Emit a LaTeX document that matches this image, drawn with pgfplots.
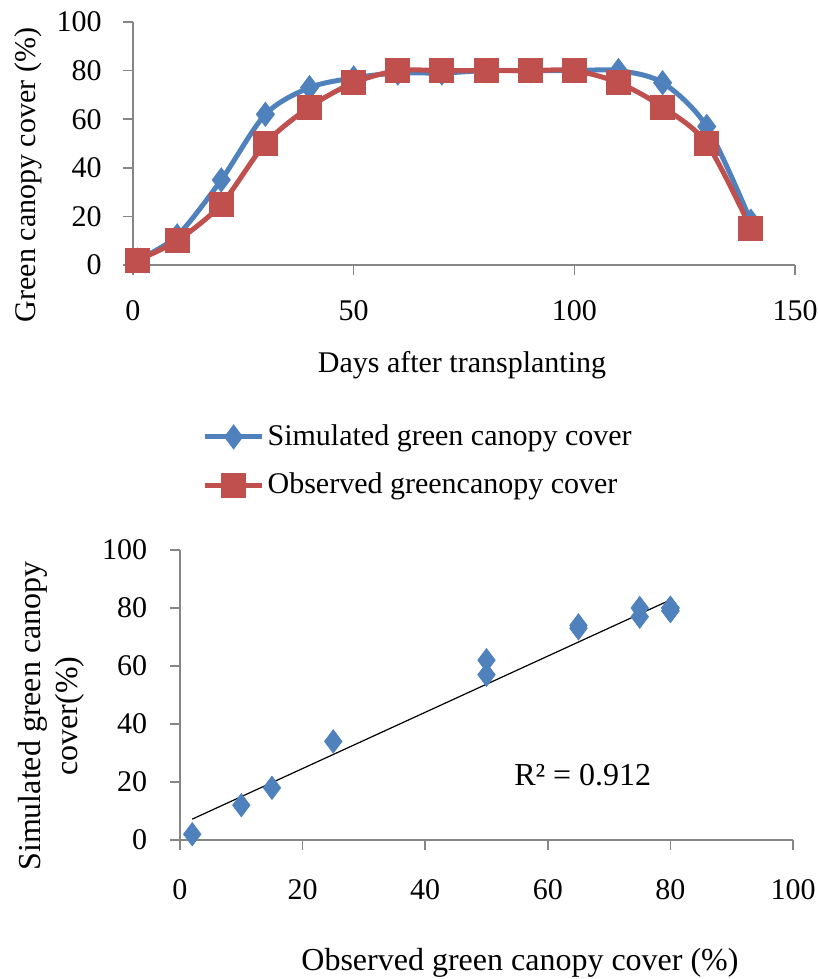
\documentclass[border=0pt]{standalone}
\usepackage{fontspec}
\setmainfont{Liberation Serif}
\usepackage{pgfplots}
\pgfplotsset{compat=1.18}

\definecolor{simblue}{HTML}{4F81BD}
\definecolor{obsred}{HTML}{C0504D}
\definecolor{axgray}{HTML}{868686}

\pgfplotsset{
  excelaxis/.style={
    scale only axis,
    axis x line*=bottom,
    axis y line*=left,
    axis line style={axgray, line width=0.8pt},
    tick style={axgray, line width=0.8pt},
    tick align=outside,
    major tick length=5pt,
    /pgf/number format/assume math mode=true,
    ymin=0, ymax=100,
    ytick={0,20,...,100},
    clip=false,
  },
}

\begin{document}
\fontsize{15}{18}\selectfont
\begin{tikzpicture}
\useasboundingbox (-66.5pt,132.5pt) rectangle (342.5pt,-357pt);

% Canopy cover over the season
\begin{axis}[excelaxis,
  at={(0pt,0pt)}, anchor=south west,
  width=331pt, height=121.5pt,
  xmin=0, xmax=150,
  xtick={0,50,100,150},
  xticklabel shift=7.5pt,
  yticklabel shift=5.5pt,
  legend style={at={(axis description cs:0.0955,-0.807)}, anchor=west,
    draw=none, fill=none, legend cell align=left,
    nodes={inner sep=1.5pt}, row sep=8.5pt},
  legend image code/.code={%
    \draw[mark repeat=2,mark phase=2] plot coordinates {(0pt,0pt) (14.25pt,0pt) (28.5pt,0pt)};},
]
\addplot[simblue, line width=2.5pt, smooth, mark=diamond*, mark size=4.3pt,
  mark options={solid}] coordinates {
  (1,2) (10,12) (20,35) (30,62) (40,73) (50,77) (60,79) (70,79)
  (80,80) (90,80) (100,80) (110,80) (120,75) (130,57) (140,18)};
\addlegendentry{Simulated green canopy cover}
\addplot[obsred, line width=2.5pt, smooth, mark=square*, mark size=5pt,
  mark options={solid}] coordinates {
  (1,2) (10,10) (20,25) (30,50) (40,65) (50,75) (60,80) (70,80)
  (80,80) (90,80) (100,80) (110,75) (120,65) (130,50) (140,15)};
\addlegendentry{Observed greencanopy cover}
\end{axis}
\node[rotate=90] at (-52.5pt,45pt) {Green canopy cover (\%)};
\node at (164.5pt,-50pt) {Days after transplanting};

% Simulated against observed
\begin{axis}[excelaxis,
  at={(23.5pt,-287.5pt)}, anchor=south west,
  width=306.5pt, height=145pt,
  xmin=0, xmax=100,
  xtick={0,20,...,100},
  xticklabel shift=9.5pt,
  yticklabel shift=6.25pt,
]
\addplot[only marks, mark=diamond*, mark size=5.8pt, color=simblue] coordinates {
  (2,2) (10,12) (25,34) (50,62) (65,73) (75,77) (80,79) (80,79)
  (80,80) (80,80) (80,80) (75,80) (65,74) (50,57) (15,18)};
\addplot[black, line width=0.6pt] coordinates {(2,7.2) (80,82.8)};
\node[font=\fontsize{16}{19}\selectfont] at (axis cs:65.7,22.4) {R² = 0.912};
\end{axis}
\node[rotate=90, align=center, font=\fontsize{16}{18.5}\selectfont] at (-41pt,-225.5pt) {Simulated green canopy\\cover(\%)};
\node[font=\fontsize{16}{19}\selectfont] at (193.5pt,-349pt) {Observed green canopy cover (\%)};
\end{tikzpicture}
\end{document}
